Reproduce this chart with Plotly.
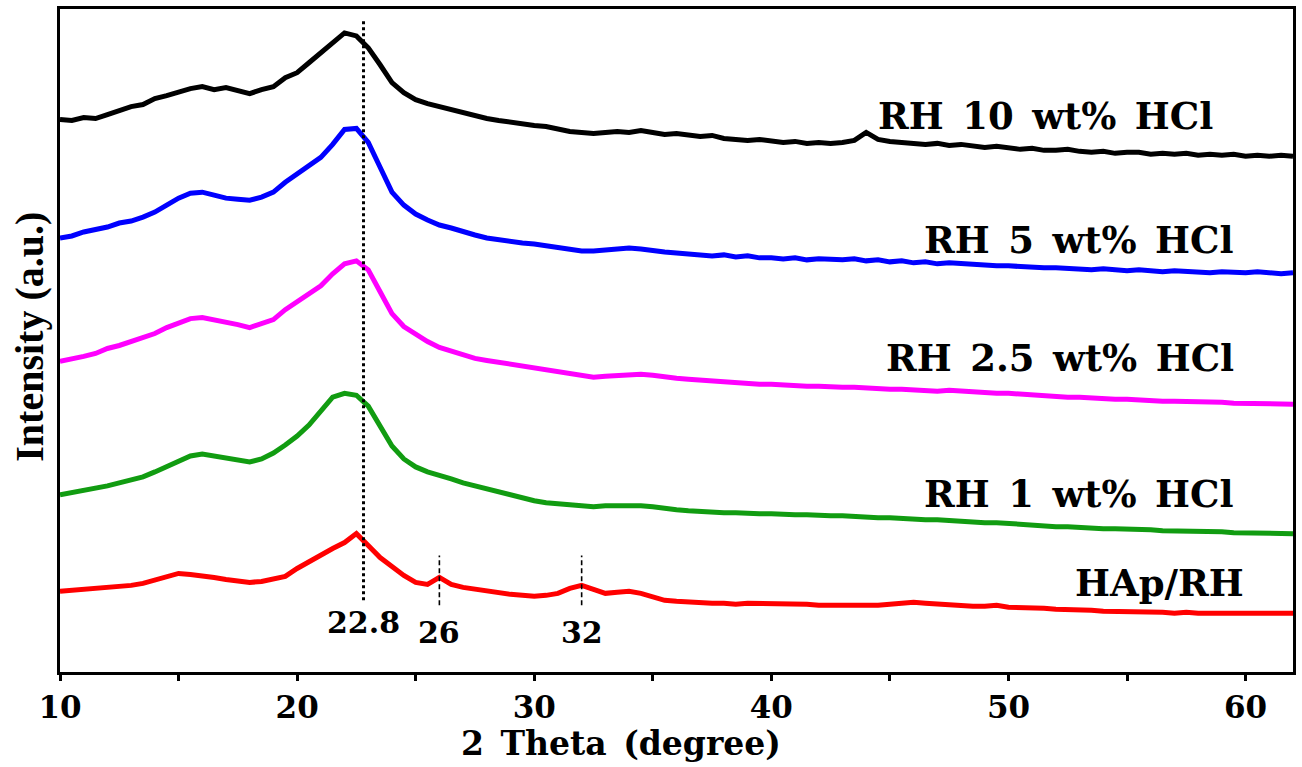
import plotly.graph_objects as go

# 2-theta sampling grid (degrees), 0.5 degree steps from 10 to 62
two_theta = [10 + 0.5 * i for i in range(105)]

# Stacked XRD intensities (a.u.), one list per sample
rh_10 = [
    555, 554, 557, 556, 560, 564, 568, 570, 576, 579,
    583, 586, 588, 585, 587, 584, 581, 585, 588, 597,
    602, 612, 622, 632, 642, 639, 627, 610, 592, 582,
    575, 571, 568, 564, 562, 559, 556, 554, 552, 551,
    549, 548, 545, 543, 542, 541, 542, 543, 542, 544,
    542, 540, 541, 539, 538, 539, 536, 535, 534, 535,
    533, 532, 533, 531, 532, 531, 532, 534, 542, 535,
    533, 532, 532, 530, 531, 529, 530, 528, 527, 528,
    526, 525, 526, 524, 524, 525, 523, 522, 523, 521,
    522, 522, 520, 521, 520, 521, 519, 520, 519, 520,
    518, 519, 518, 519, 518,
]
rh_5 = [
    436, 438, 442, 444, 447, 451, 453, 457, 462, 469,
    476, 481, 482, 479, 476, 475, 474, 477, 482, 492,
    500, 508, 517, 530, 545, 546, 532, 507, 482, 469,
    460, 454, 449, 446, 442, 439, 436, 434, 433, 431,
    430, 428, 426, 424, 423, 423, 424, 425, 426, 425,
    423, 422, 421, 420, 420, 418, 419, 417, 418, 416,
    416, 415, 416, 414, 415, 414, 414, 415, 413, 414,
    412, 413, 411, 412, 410, 411, 410, 409, 409, 408,
    408, 407, 407, 406, 406, 405, 405, 404, 405, 404,
    403, 404, 403, 402, 403, 402, 402, 401, 402, 401,
    401, 402, 401, 400, 401,
]
rh_2_5 = [
    312, 314, 317, 320, 325, 328, 332, 336, 340, 346,
    351, 355, 356, 354, 352, 349, 346, 350, 354, 364,
    372, 379, 388, 400, 410, 413, 404, 382, 360, 347,
    339, 332, 326, 322, 318, 315, 313, 311, 309, 307,
    306, 304, 301, 299, 297, 296, 297, 298, 298, 299,
    298, 296, 295, 294, 293, 292, 291, 291, 290, 289,
    289, 288, 288, 287, 287, 286, 286, 286, 285, 285,
    284, 284, 283, 283, 282, 283, 282, 281, 281, 280,
    280, 279, 279, 278, 277, 276, 276, 275, 275, 274,
    274, 273, 273, 272, 272, 272, 271, 271, 271, 270,
    270, 270, 270, 269, 269,
]
rh_1 = [
    178, 180, 182, 184, 187, 190, 193, 196, 201, 206,
    212, 217, 219, 217, 215, 213, 211, 214, 220, 228,
    237, 248, 262, 276, 280, 278, 267, 247, 227, 214,
    206, 201, 198, 194, 190, 187, 183, 180, 177, 174,
    172, 170, 169, 167, 166, 166, 167, 167, 168, 167,
    166, 164, 163, 162, 161, 160, 160, 160, 159, 159,
    159, 158, 158, 158, 157, 157, 157, 156, 156, 155,
    155, 154, 154, 153, 153, 152, 152, 151, 150, 150,
    149, 148, 148, 147, 146, 146, 145, 145, 144, 144,
    144, 143, 143, 142, 142, 142, 141, 141, 141, 140,
    140, 140, 140, 139, 139,
]
hap_rh = [
    81, 82, 82, 83, 84, 85, 87, 89, 92, 96,
    99, 98, 97, 95, 93, 92, 90, 91, 93, 96,
    104, 111, 118, 124, 130, 139, 127, 115, 106, 97,
    90, 88, 95, 88, 85, 83, 81, 80, 78, 77,
    76, 77, 79, 84, 87, 83, 79, 80, 81, 79,
    75, 72, 71, 70, 69, 69, 69, 68, 69, 69,
    68, 69, 69, 68, 67, 67, 67, 67, 66, 67,
    68, 69, 70, 69, 68, 67, 67, 66, 66, 67,
    65, 65, 64, 64, 63, 63, 62, 62, 61, 61,
    61, 60, 60, 60, 59, 60, 59, 59, 59, 58,
    59, 58, 58, 59, 59,
]

series_names = ["RH 10 wt% HCl", "RH 5 wt% HCl", "RH 2.5 wt% HCl", "RH 1 wt% HCl", "HAp/RH"]
series_values = [rh_10, rh_5, rh_2_5, rh_1, hap_rh]
series_colors = ["#000000", "#0000ff", "#ff00ff", "#119c11", "#ff0000"]
label_y = [559, 434, 315, 179, 89]
label_x = [58.7, 59.6, 59.6, 59.6, 60.0]

# Reference peak positions marked with dashed guides
peak_pos = [22.8, 26, 32]
peak_text = ["22.8", "26", "32"]
peak_line_lo = [72, 67, 67]
peak_line_hi = [654, 117, 117]

SERIF = "DejaVu Serif"
EN = "\u2002"  # wider word gap for the bold serif labels


def spaced(s):
    return s.replace(" ", EN)


fig = go.Figure()

for name, vals, col in zip(series_names, series_values, series_colors):
    fig.add_trace(go.Scatter(
        x=two_theta, y=vals, mode="lines", name=name,
        line=dict(color=col, width=5), showlegend=False,
    ))

for i, (p, lo, hi) in enumerate(zip(peak_pos, peak_line_lo, peak_line_hi)):
    main = i == 0
    fig.add_trace(go.Scatter(
        x=[p, p], y=[lo, hi], mode="lines", showlegend=False,
        line=dict(color="black", width=3 if main else 1.6,
                  dash="3px,3px" if main else "5px,3px"),
    ))

annotations = []
for name, lx, ly in zip(series_names, label_x, label_y):
    annotations.append(dict(
        x=lx, y=ly, xref="x", yref="y", text=spaced(name), showarrow=False,
        xanchor="right", yanchor="middle",
        font=dict(family=SERIF, size=37, color="black", weight="bold"),
    ))
for p, t in zip(peak_pos, peak_text):
    annotations.append(dict(
        x=p, y=50 if t == "22.8" else 40, xref="x", yref="y", text=t, showarrow=False,
        xanchor="center", yanchor="middle",
        font=dict(family=SERIF, size=30, color="black", weight="bold"),
    ))
annotations.append(dict(
    x=0.455, y=-0.108, xref="paper", yref="paper", text=spaced("2 Theta (degree)"),
    showarrow=False, xanchor="center", yanchor="middle",
    font=dict(family=SERIF, size=33, color="black", weight="bold"),
))
annotations.append(dict(
    x=-0.025, y=0.506, xref="paper", yref="paper", text="Intensity (a.u.)",
    showarrow=False, xanchor="center", yanchor="middle", textangle=-90,
    font=dict(family="Liberation Serif", size=40, color="black", weight="bold"),
))

fig.update_layout(
    width=1302, height=767,
    margin=dict(l=60, r=7, t=6, b=95),
    plot_bgcolor="white", paper_bgcolor="white",
    annotations=annotations,
    xaxis=dict(
        range=[10, 62], tickmode="array", tickvals=[10, 20, 30, 40, 50, 60],
        ticks="outside", ticklen=6, tickwidth=3, tickcolor="black",
        minor=dict(tickvals=[15, 25, 35, 45, 55], ticks="outside", ticklen=6,
                   tickwidth=3, tickcolor="black"),
        showline=True, linewidth=3, linecolor="black", mirror=True,
        showgrid=False, zeroline=False,
        tickfont=dict(family=SERIF, size=31, color="black", weight="bold"),
    ),
    yaxis=dict(
        range=[0, 666], showticklabels=False, ticks="",
        showline=True, linewidth=3, linecolor="black", mirror=True,
        showgrid=False, zeroline=False,
    ),
)

fig.write_html("out.html")
